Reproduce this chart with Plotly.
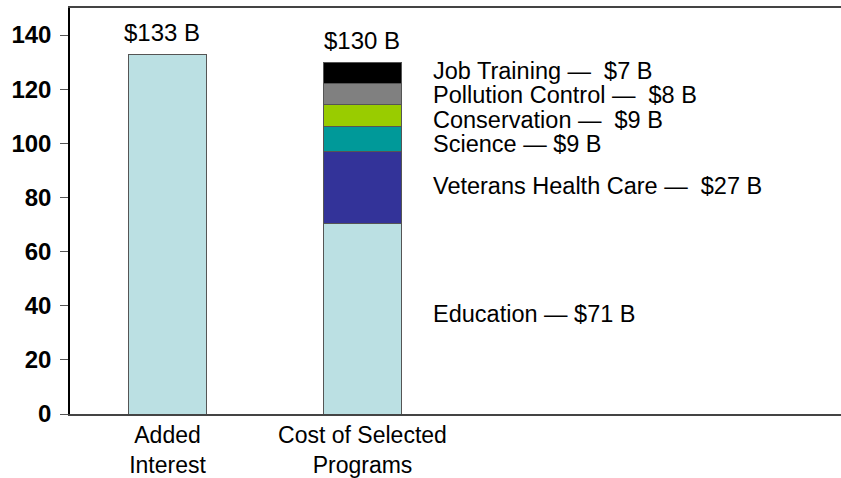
import plotly.graph_objects as go

categories = ["Added<br>Interest", "Cost of Selected<br>Programs"]
added_interest = 133
added_interest_label = "$133 B"
programs_total_label = "$130 B"

programs = ["Education", "Veterans Health Care", "Science", "Conservation",
            "Pollution Control", "Job Training"]
program_costs = [70.3, 26.8, 9.2, 8.2, 7.7, 7.8]
program_labels = ["Education — $71 B", "Veterans Health Care —\u00a0 $27 B",
                  "Science — $9 B", "Conservation —\u00a0 $9 B",
                  "Pollution Control —\u00a0 $8 B", "Job Training —\u00a0 $7 B"]
program_colors = ["#BBE0E3", "#333399", "#009999", "#99CC00", "#808080", "#000000"]
label_y = [37.0, 84.4, 99.9, 108.7, 117.9, 126.9]

y_ticks = [0, 20, 40, 60, 80, 100, 120, 140]

FONT = "Liberation Sans, Arial, sans-serif"
BAR_W = 0.405
EDGE = dict(color="#555555", width=1)

fig = go.Figure()
fig.add_trace(go.Bar(x=[categories[0]], y=[added_interest], width=BAR_W,
                     marker=dict(color=program_colors[0], line=EDGE),
                     showlegend=False, name="Added Interest"))
for name, val, col in zip(programs, program_costs, program_colors):
    fig.add_trace(go.Bar(x=[categories[1]], y=[val], width=BAR_W, name=name,
                         marker=dict(color=col, line=EDGE), showlegend=False))

annotations = []
for txt, yv in zip(program_labels, label_y):
    annotations.append(dict(x=1.35, y=yv, xref="x", yref="y", text=txt,
                            showarrow=False, xanchor="left", yanchor="middle",
                            font=dict(family=FONT, size=23.5, color="#000000")))
annotations.append(dict(x=categories[0], y=added_interest, xref="x", yref="y",
                        text=added_interest_label, showarrow=False,
                        xanchor="center", yanchor="bottom", xshift=-6, yshift=6,
                        font=dict(family=FONT, size=24, color="#000000")))
annotations.append(dict(x=categories[1], y=sum(program_costs), xref="x", yref="y",
                        text=programs_total_label, showarrow=False,
                        xanchor="center", yanchor="bottom", yshift=6,
                        font=dict(family=FONT, size=24, color="#000000")))

fig.update_layout(
    barmode="stack",
    width=841, height=478,
    margin=dict(l=70, r=0, t=8, b=62),
    paper_bgcolor="white", plot_bgcolor="white",
    annotations=annotations,
    xaxis=dict(type="category", range=[-0.5, 3.454], showline=True,
               linecolor="#444444", linewidth=1.5, mirror=True, ticks="",
               showgrid=False, zeroline=False,
               tickfont=dict(family=FONT, size=23, color="#000000")),
    yaxis=dict(range=[0, 150], tickvals=y_ticks, showline=True,
               linecolor="#000000", linewidth=1.5, ticks="outside", ticklen=8,
               tickcolor="#555555", showgrid=False, zeroline=False,
               ticklabelstandoff=4,
               tickfont=dict(family=FONT, size=24, color="#000000", weight="bold")),
)

fig.write_html("out.html", config={"displayModeBar": False},
               post_script="document.body.style.margin='0';")
